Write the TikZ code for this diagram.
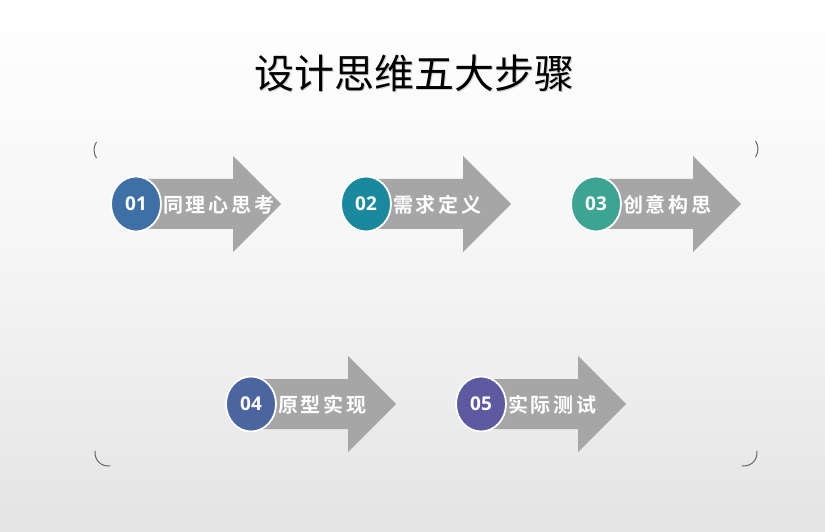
\documentclass[tikz,border=0pt]{standalone}
\usepackage{fontspec}
\usetikzlibrary{calc,shapes.geometric}
\newfontfamily\cjk{Noto Sans CJK SC}[BoldFont={Noto Sans CJK SC Bold}]
\newfontfamily\cjklab{Noto Sans CJK SC}[BoldFont={Noto Sans CJK SC Bold},LetterSpace=14]
\newfontfamily\numfont{Open Sans}
\definecolor{bgbot}{HTML}{E4E4E4}
\definecolor{arrowgray}{HTML}{A6A6A6}
\definecolor{cA}{HTML}{3E70A6}
\definecolor{cB}{HTML}{1A889D}
\definecolor{cC}{HTML}{3CA592}
\definecolor{cD}{HTML}{4B65A0}
\definecolor{cE}{HTML}{5E5AA1}

\begin{document}
\begin{tikzpicture}[x=1pt,y=1pt,line join=round,
  stepdot/.style={ellipse,draw=white,line width=1.8pt,minimum width=50pt,minimum height=55pt,
    inner sep=0pt,text=white,font=\numfont\bfseries\fontsize{19}{19}\selectfont},
  steplabel/.style={anchor=west,inner sep=0pt,text=white,font=\cjklab\bfseries\fontsize{20}{20}\selectfont},
  corner/.style={gray!80!black,line width=1pt}]
  % background, light gradient
  \shade[top color=white,bottom color=bgbot,middle color=white!96!black] (0,0) rectangle (825,531);
  \useasboundingbox (0,0) rectangle (825,531);
  % title with soft shadow
  \node[text=gray!40] (titleshadow) at (415.5,457) {\cjk\fontsize{40}{40}\selectfont 设计思维五大步骤};
  \node (title) at (414.5,458) {\cjk\fontsize{40}{40}\selectfont 设计思维五大步骤};
  % corner marks
  \draw[corner] ([shift={(145:14)}]108,381) arc (145:215:14);
  \draw[corner] ([shift={(-35:14)}]744,382) arc (-35:35:14);
  \draw[corner] ([shift={(170:13)}]108,78) arc (170:280:13);
  \draw[corner] ([shift={(10:13)}]744,78) arc (10:-100:13);
  % the five steps
  \foreach \cx/\cy/\col/\num/\txt in {136/327/cA/01/同理心思考,366/327/cB/02/需求定义,
      596/327/cC/03/创意构思,251/127/cD/04/原型实现,481/127/cE/05/实际测试}{
    \fill[arrowgray] (\cx+12,\cy+25) -- (\cx+97,\cy+25) -- (\cx+97,\cy+48) -- (\cx+145,\cy)
      -- (\cx+97,\cy-48) -- (\cx+97,\cy-25) -- (\cx+12,\cy-25) -- cycle;
    \node[stepdot,fill=\col] (s\num) at (\cx,\cy) {\num};
    \node[steplabel] (l\num) at ($(s\num.east)+(1,-1)$) {\txt};
  }
\end{tikzpicture}
\end{document}
